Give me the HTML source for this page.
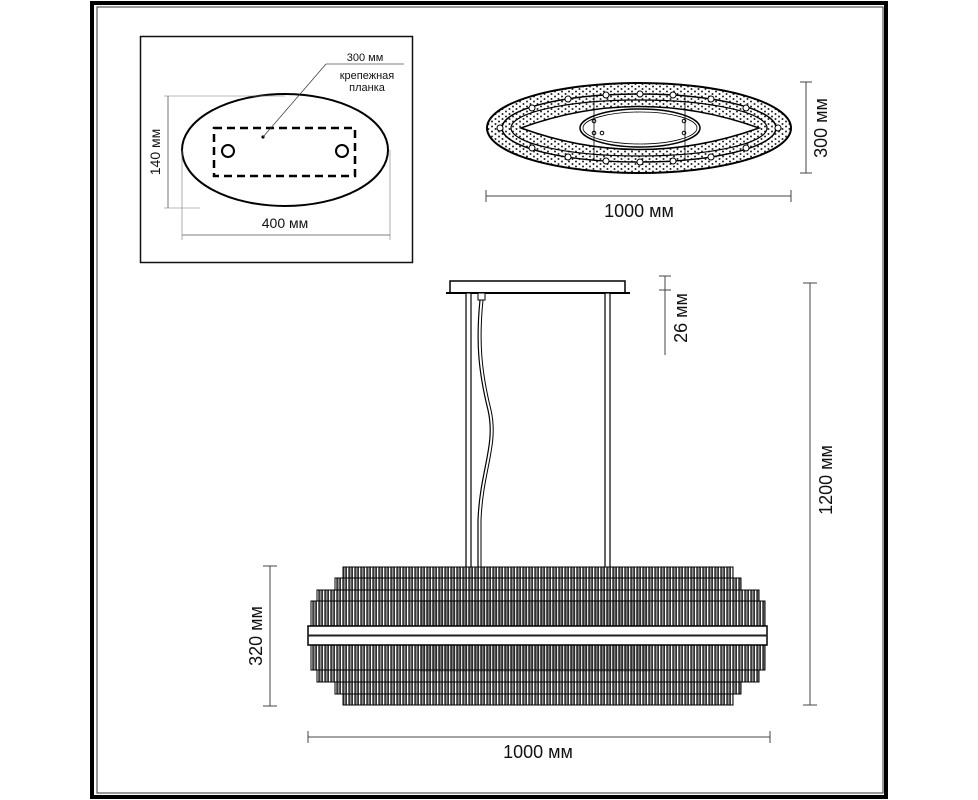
<!DOCTYPE html>
<html><head><meta charset="utf-8"><style>
html,body{margin:0;padding:0;background:#fff}
svg{display:block}
text{font-family:"Liberation Sans",sans-serif;fill:#111}
</style></head><body>
<svg width="978" height="800" viewBox="0 0 978 800" xmlns="http://www.w3.org/2000/svg">
<defs>
<pattern id="rods" x="0" y="0" width="6" height="200" patternUnits="userSpaceOnUse">
<rect x="0" y="0" width="6" height="200" fill="#fff"/>
<rect x="0.8" y="-1" width="3.6" height="202" fill="#4a4a4a" stroke="#000" stroke-width="0.8"/>
<rect x="2.1" y="-1" width="1.1" height="202" fill="#9a9a9a"/>
</pattern>
<pattern id="dots" width="7" height="5" patternUnits="userSpaceOnUse">
<rect width="7" height="5" fill="#fff"/>
<circle cx="2" cy="1.5" r="1" fill="#222"/><circle cx="5.5" cy="4" r="1" fill="#222"/>
</pattern>
</defs>
<rect x="92" y="3" width="794" height="794" fill="none" stroke="#000" stroke-width="4"/>
<rect x="97" y="7" width="786" height="786" fill="none" stroke="#333" stroke-width="1"/>

<rect x="140.5" y="36.5" width="272" height="226" fill="none" stroke="#111" stroke-width="1.5"/>
<ellipse cx="285" cy="150" rx="103" ry="56" fill="none" stroke="#000" stroke-width="2"/>
<rect x="214" y="128" width="141" height="48" fill="none" stroke="#000" stroke-width="2.5" stroke-dasharray="8,5"/>
<circle cx="228" cy="151" r="6" fill="none" stroke="#000" stroke-width="2"/>
<circle cx="342" cy="151" r="6" fill="none" stroke="#000" stroke-width="2"/>
<circle cx="263" cy="137" r="1.6" fill="#000"/>
<line x1="263" y1="137" x2="326" y2="64" stroke="#333" stroke-width="0.7"/>
<line x1="326" y1="64" x2="404" y2="64" stroke="#555" stroke-width="0.7"/>
<text x="365" y="61" font-size="11" text-anchor="middle">300 мм</text>
<text x="367" y="79" font-size="11" text-anchor="middle">крепежная</text>
<text x="367" y="91" font-size="11" text-anchor="middle">планка</text>
<line x1="168" y1="96" x2="168" y2="208" stroke="#555" stroke-width="0.8"/>
<line x1="164" y1="96" x2="285" y2="96" stroke="#777" stroke-width="0.6"/>
<line x1="164" y1="208" x2="200" y2="208" stroke="#777" stroke-width="0.6"/>
<text transform="translate(160,152) rotate(-90)" font-size="14" text-anchor="middle">140 мм</text>
<line x1="182" y1="235" x2="390" y2="235" stroke="#555" stroke-width="0.8"/>
<line x1="182" y1="150" x2="182" y2="240" stroke="#777" stroke-width="0.6"/>
<line x1="390" y1="150" x2="390" y2="240" stroke="#777" stroke-width="0.6"/>
<text x="285" y="228" font-size="14" text-anchor="middle">400 мм</text>

<ellipse cx="639" cy="128" rx="152" ry="45" fill="url(#dots)" stroke="#000" stroke-width="2"/>
<ellipse cx="639" cy="128" rx="137" ry="34" fill="none" stroke="#000" stroke-width="1.5"/>
<ellipse cx="639" cy="128" rx="128" ry="28" fill="none" stroke="#000" stroke-width="1.2"/>
<path d="M521,128 Q639,85 759,128 Q639,171 521,128 Z" fill="#fff" stroke="#000" stroke-width="1.5"/>
<ellipse cx="640" cy="128" rx="60" ry="19" fill="#fff" stroke="#000" stroke-width="1.5"/>
<ellipse cx="640" cy="128" rx="57" ry="16" fill="none" stroke="#000" stroke-width="0.8"/>
<g fill="#fff" stroke="#000" stroke-width="1">
<circle cx="500" cy="128" r="3"/><circle cx="778" cy="128" r="3"/>
<circle cx="532" cy="108" r="3"/><circle cx="568" cy="99" r="3"/><circle cx="606" cy="95" r="3"/><circle cx="640" cy="94" r="3"/><circle cx="673" cy="95" r="3"/><circle cx="711" cy="99" r="3"/><circle cx="746" cy="108" r="3"/>
<circle cx="532" cy="148" r="3"/><circle cx="568" cy="157" r="3"/><circle cx="606" cy="161" r="3"/><circle cx="640" cy="162" r="3"/><circle cx="673" cy="161" r="3"/><circle cx="711" cy="157" r="3"/><circle cx="746" cy="148" r="3"/>
<circle cx="594" cy="121" r="1.8"/><circle cx="594" cy="133" r="1.8"/><circle cx="602" cy="133" r="1.8"/><circle cx="684" cy="121" r="1.8"/><circle cx="684" cy="133" r="1.8"/>
</g>
<line x1="594" y1="96" x2="594" y2="160" stroke="#000" stroke-width="0.8"/>
<line x1="685" y1="96" x2="685" y2="160" stroke="#000" stroke-width="0.8"/>
<line x1="806" y1="82" x2="806" y2="173" stroke="#444" stroke-width="1"/>
<line x1="800" y1="82" x2="812" y2="82" stroke="#444"/><line x1="800" y1="173" x2="812" y2="173" stroke="#444"/>
<text transform="translate(827,128) rotate(-90)" font-size="18" text-anchor="middle">300 мм</text>
<line x1="486" y1="196" x2="791" y2="196" stroke="#444"/>
<line x1="486" y1="190" x2="486" y2="202" stroke="#444"/><line x1="791" y1="190" x2="791" y2="202" stroke="#444"/>
<text x="639" y="217" font-size="18" text-anchor="middle">1000 мм</text>

<rect x="450" y="281" width="175" height="12" fill="#fff" stroke="#000" stroke-width="1.5"/>
<line x1="446" y1="293" x2="630" y2="293" stroke="#000" stroke-width="2"/>
<rect x="466" y="293" width="5" height="284" fill="#fff" stroke="#000" stroke-width="1.2"/>
<rect x="605" y="293" width="5" height="284" fill="#fff" stroke="#000" stroke-width="1.2"/>
<rect x="478" y="293" width="7" height="7" fill="#fff" stroke="#000"/>
<path d="M480,300 C476,340 478,370 488,410 C496,445 480,470 478,520 L478,575" fill="none" stroke="#000" stroke-width="1.2"/>
<path d="M483,300 C479,340 481,370 491,410 C499,445 483,470 481,520 L481,575" fill="none" stroke="#000" stroke-width="1"/>

<rect x="343" y="567" width="390" height="138" fill="url(#rods)" stroke="#000"/>
<rect x="335" y="578" width="406" height="116" fill="url(#rods)" stroke="#000"/>
<rect x="317" y="590" width="442" height="92" fill="url(#rods)" stroke="#000"/>
<rect x="311" y="601" width="454" height="69" fill="url(#rods)" stroke="#000"/>
<rect x="420" y="600" width="230" height="72" fill="#000" opacity="0.15"/>
<rect x="308" y="626" width="459" height="19" fill="#fff" stroke="#000" stroke-width="1.5"/>
<line x1="308" y1="635.5" x2="767" y2="635.5" stroke="#222" stroke-width="2"/>

<line x1="665" y1="276" x2="665" y2="355" stroke="#444"/>
<line x1="659" y1="276" x2="671" y2="276" stroke="#444"/><line x1="659" y1="290" x2="671" y2="290" stroke="#444"/>
<text transform="translate(687,318) rotate(-90)" font-size="18" text-anchor="middle">26 мм</text>
<line x1="810" y1="283" x2="810" y2="705" stroke="#444"/>
<line x1="803" y1="283" x2="817" y2="283" stroke="#444"/><line x1="803" y1="705" x2="817" y2="705" stroke="#444"/>
<text transform="translate(832,480) rotate(-90)" font-size="18" text-anchor="middle">1200 мм</text>
<line x1="270" y1="566" x2="270" y2="706" stroke="#444"/>
<line x1="263" y1="566" x2="277" y2="566" stroke="#444"/><line x1="263" y1="706" x2="277" y2="706" stroke="#444"/>
<text transform="translate(262,636) rotate(-90)" font-size="18" text-anchor="middle">320 мм</text>
<line x1="308" y1="737" x2="770" y2="737" stroke="#444"/>
<line x1="308" y1="731" x2="308" y2="743" stroke="#444"/><line x1="770" y1="731" x2="770" y2="743" stroke="#444"/>
<text x="538" y="758" font-size="18" text-anchor="middle">1000 мм</text>
</svg>
</body></html>
